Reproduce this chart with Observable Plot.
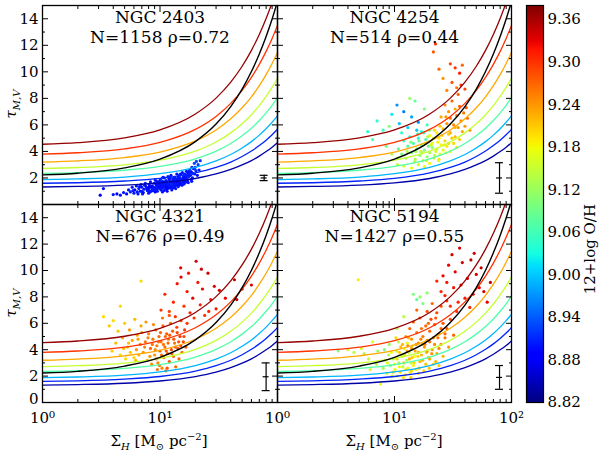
<!DOCTYPE html>
<html><head><meta charset="utf-8">
<script src="https://cdn.jsdelivr.net/npm/d3@7"></script>
<script src="https://cdn.jsdelivr.net/npm/@observablehq/plot@0.6"></script>
<style>
body{margin:0;background:#fff;}
#fig{position:relative;width:600px;height:451px;overflow:hidden;background:#fff;font-family:"DejaVu Serif",serif;color:#000;}
#fig svg text{font-family:"DejaVu Serif",serif;}
.lab{position:absolute;white-space:nowrap;font-size:15px;line-height:1;}
.lab sub,.lab sup{font-size:10px;}
</style></head><body><div id="fig"></div>
<script>
// ---------- data ----------
const galaxies = ["NGC 2403", "NGC 4254", "NGC 4321", "NGC 5194"];
const counts = [1158, 514, 676, 1427];
const rhos = [0.72, 0.44, 0.49, 0.55];
// typical error bar per galaxy: [x, y, half-length]
const errBars = [[77, 2.0, 0.2], [79, 2.0, 1.15], [80, 1.95, 1.05], [79, 1.9, 0.9]];

// model curves
const modelX = [1, 2, 5, 10, 20, 30, 40, 50, 60, 70, 80, 90, 100];
const modelOH = [9.37, 9.30, 9.23, 9.15, 9.07, 8.99, 8.91, 8.84];
const modelY = [
  [4.54, 4.66, 5.02, 5.62, 6.82, 8.02, 9.22, 10.42, 11.62, 12.82, 14.02, 15.22, 16.42],
  [3.80, 3.90, 4.19, 4.68, 5.66, 6.64, 7.62, 8.60, 9.58, 10.56, 11.54, 12.52, 13.50],
  [3.20, 3.29, 3.54, 3.95, 4.79, 5.62, 6.46, 7.29, 8.12, 8.96, 9.79, 10.63, 11.46],
  [2.72, 2.79, 2.99, 3.34, 4.02, 4.71, 5.40, 6.09, 6.77, 7.46, 8.15, 8.83, 9.52],
  [2.35, 2.41, 2.58, 2.87, 3.44, 4.02, 4.60, 5.18, 5.75, 6.33, 6.91, 7.48, 8.06],
  [1.88, 1.93, 2.07, 2.32, 2.80, 3.29, 3.77, 4.26, 4.74, 5.23, 5.71, 6.20, 6.68],
  [1.60, 1.64, 1.77, 1.97, 2.38, 2.79, 3.20, 3.62, 4.03, 4.44, 4.85, 5.26, 5.67],
  [1.32, 1.36, 1.46, 1.63, 1.96, 2.30, 2.64, 2.98, 3.31, 3.65, 3.99, 4.32, 4.66]
];
const blackY = [2.23, 2.36, 2.76, 3.42, 4.74, 6.06, 7.38, 8.70, 10.02, 11.34, 12.66, 13.98, 15.30];

// scatter points [Sigma_H, tau, 12+log O/H]
const ngc2403 = [
[3.1,0.7,8.89],[3.3,1.2,8.9],[4.0,0.75,8.9],[4.3,0.8,8.88],[4.6,0.7,8.9],[4.9,0.9,8.9],[5.2,0.8,8.89],[5.4,1.1,8.9],[5.6,0.95,8.91],[5.8,1.3,8.9],
[6.0,0.85,8.9],[6.1,1.1,8.88],[6.3,1.4,8.9],[6.4,0.95,8.9],[6.6,1.2,8.91],[6.8,1.0,8.89],[6.9,1.5,8.9],[7.0,1.3,8.9],[7.2,0.9,8.88],[7.3,1.15,8.9],
[7.5,1.6,8.91],[7.6,1.35,8.9],[7.8,1.05,8.9],[7.9,1.25,8.89],[8.1,1.5,8.9],[8.2,0.95,8.9],[8.3,1.7,8.9],[8.5,1.2,8.91],[8.6,1.4,8.88],[8.7,1.05,8.9],
[8.9,1.6,8.9],[9.0,1.3,8.9],[9.1,1.85,8.91],[9.2,1.15,8.9],[9.3,1.5,8.89],[9.5,1.0,8.9],[9.6,1.7,8.9],[9.7,1.35,8.9],[9.8,1.25,8.88],[10.0,1.55,8.9],
[10.1,1.9,8.91],[10.2,1.1,8.9],[10.3,1.45,8.9],[10.5,1.75,8.9],[10.6,1.3,8.89],[10.7,1.6,8.9],[10.9,2.0,8.9],[11.0,1.2,8.91],[11.1,1.5,8.9],[11.3,1.8,8.9],
[11.4,1.4,8.88],[11.5,1.65,8.9],[11.7,2.1,8.9],[11.8,1.3,8.9],[11.9,1.55,8.91],[12.0,1.85,8.9],[12.2,1.45,8.9],[12.3,1.7,8.89],[12.4,2.2,8.9],[12.6,1.35,8.9],
[12.7,1.6,8.9],[12.9,1.95,8.91],[13.0,1.5,8.9],[13.1,1.75,8.88],[13.3,2.05,8.9],[13.4,1.4,8.9],[13.6,1.65,8.9],[13.7,1.9,8.91],[13.9,2.3,8.9],[14.0,1.55,8.9],
[14.2,1.8,8.89],[14.3,2.1,8.9],[14.5,1.45,8.9],[14.6,1.7,8.9],[14.8,2.0,8.91],[15.0,1.6,8.9],[15.1,2.25,8.9],[15.3,1.85,8.88],[15.5,2.4,8.9],[15.6,1.7,8.9],
[15.8,2.05,8.9],[16.0,1.9,8.91],[16.2,2.3,8.9],[16.4,1.75,8.9],[16.6,2.15,8.89],[16.8,2.5,8.9],[17.0,1.95,8.9],[17.3,2.35,8.9],[17.6,2.1,8.91],[17.9,2.6,8.9],
[18.2,2.2,8.9],[18.5,2.45,8.88],[18.9,2.0,8.9],[19.3,2.7,8.9],[19.7,2.3,8.9],[20.2,2.55,8.91],[20.8,2.2,8.9],[21.5,2.6,8.9],[19.6,3.1,8.93],[20.4,3.25,8.93],
[21.1,3.0,8.92],[22.0,3.3,8.92],[8.0,1.1,8.9],[8.4,1.35,8.89],[8.8,1.25,8.9],[9.4,1.4,8.9],[9.9,1.2,8.91],[10.4,1.6,8.9],[10.8,1.45,8.9],[11.2,1.35,8.89],
[11.6,1.5,8.9],[12.1,1.25,8.9],[12.5,1.55,8.91],[12.8,1.8,8.9],[13.2,1.3,8.9],[13.5,1.55,8.9],[13.8,1.7,8.89],[14.1,1.95,8.9],[14.4,1.6,8.9],[14.7,1.85,8.9],
[15.2,1.5,8.91],[15.7,1.95,8.9],[16.1,1.6,8.9],[16.5,2.0,8.9],[17.1,1.8,8.88],[17.7,2.25,8.9],[18.4,1.9,8.9],[19.0,2.35,8.91],[7.4,1.45,8.9],[6.7,1.35,8.9],
[9.3,1.75,8.9],[10.6,2.05,8.9],[12.2,2.0,8.89],[14.9,2.3,8.9],[16.9,2.2,8.9],[18.0,2.55,8.91],[5.9,1.05,8.9],[7.1,0.8,8.9],[8.0,0.85,8.9],[9.1,0.95,8.89],
[7.7,1.2,8.9],[8.1,1.3,8.89],[8.4,1.0,8.9],[8.9,1.1,8.9],[9.4,1.2,8.9],[9.7,1.55,8.9],[10.0,1.35,8.89],[10.3,1.2,8.9],[10.8,1.05,8.9],[11.2,1.15,8.9],
[11.6,1.2,8.89],[12.0,1.4,8.9],[12.4,1.3,8.9],[12.9,1.25,8.9],[13.3,1.6,8.9],[13.8,1.45,8.9],[14.3,1.35,8.9],[14.8,1.55,8.89],[15.4,1.45,8.9],[16.0,1.55,8.9],
[16.7,1.7,8.9],[17.4,1.65,8.9],[18.6,1.75,8.9],[10.5,0.95,8.9],[11.5,1.0,8.89],[12.6,1.1,8.9],[13.6,1.2,8.9],[6.5,0.8,8.9],[7.0,1.0,8.9],[9.9,1.75,8.9],
[11.0,1.7,8.9],[11.9,2.0,8.9],[13.2,1.85,8.9],[14.6,2.2,8.9],[15.9,2.15,8.9],[17.5,2.45,8.9],[19.9,2.8,8.91],[18.7,2.8,8.91]
];
const ngc4254 = [
[21.5,11.5,9.28],[22.4,12.1,9.3],[24,10.2,9.27],[30,10.6,9.29],[33,10.3,9.3],[36,9.9,9.31],[38,10.5,9.27],[31,9.2,9.28],[34,8.8,9.26],[37,9.0,9.3],
[28,8.6,9.25],[35,8.3,9.27],[40,8.7,9.29],[26,9.5,9.24],
[27,7.5,9.25],[29,7.0,9.24],[30,6.5,9.26],[31,7.8,9.27],[32,6.0,9.25],[33,7.2,9.23],[34,6.7,9.26],[35,5.8,9.24],[36,7.4,9.27],[37,6.3,9.25],
[38,5.5,9.23],[39,6.9,9.26],[40,5.9,9.24],[42,6.5,9.27],[44,5.6,9.25],[30,5.4,9.23],[33,5.1,9.22],[28,6.1,9.24],[26,5.7,9.22],[36,4.9,9.21],
[41,7.3,9.28],[25,6.6,9.23],
[20,5.2,9.18],[21,4.6,9.17],[22,5.6,9.2],[23,4.2,9.16],[24,5.0,9.19],[25,4.5,9.18],[26,4.1,9.17],[27,4.8,9.2],[28,4.4,9.19],[29,5.3,9.21],
[30,4.0,9.18],[32,4.6,9.2],[34,4.3,9.19],[23,5.4,9.19],
[10.8,4.2,9.08],[11.5,3.8,9.1],[12,4.8,9.05],[12.5,3.5,9.12],[13,4.4,9.07],[13.5,5.1,9.03],[14,3.9,9.1],[14.5,4.6,9.06],[15,3.4,9.13],[15.5,4.2,9.09],
[16,5.0,9.04],[16.5,3.7,9.11],[17,4.5,9.08],[17.5,3.3,9.14],[18,4.1,9.1],[18.5,4.9,9.06],[19,3.6,9.12],[19.5,4.4,9.09],[20,3.9,9.13],[21,4.3,9.11],
[22,3.7,9.14],[12.8,4.0,9.13],[14.8,3.2,9.15],[16.8,4.0,9.15],[18.8,3.3,9.16],
[7.1,6.3,9.04],[8,5.6,9.06],[9.5,6.8,9.02],[10.5,7.5,8.97],[11,6.1,9.0],[12,7.0,8.96],[13,5.8,9.01],[14,6.6,8.98],[15,7.8,9.08],[16,6.2,8.97],
[17,5.5,9.03],[18,7.2,9.1],[13.5,8.0,9.12],[11.5,5.4,9.05],[15.5,5.6,9.0],[9,5.9,9.1],[19,6.0,9.06],
[5.9,5.5,9.04],[6.5,4.9,9.06],[8.5,4.4,9.1],[10.6,3.5,9.12],[10.6,3.0,9.15],[9.5,3.8,9.13],
[12,2.9,9.16],[14,2.75,9.17],[16,3.0,9.16],[18,2.85,9.18],[20,3.1,9.18],[24,3.4,9.2],
[13.8,4.7,9.1],[15.2,4.0,9.12],[16.2,4.8,9.09],[17.2,3.9,9.13],[18.2,4.6,9.12],[19.2,5.1,9.14],[20.5,4.5,9.16],[21.5,5.0,9.17],[22.5,4.0,9.16],[23.5,4.7,9.18],
[24.5,3.8,9.17],[25.5,5.2,9.2],[26.5,4.5,9.19],[27.5,3.9,9.18],[17.8,5.4,9.06],[19.8,5.6,9.1],[15.8,5.3,9.05],[21.8,3.5,9.15],[23.8,3.3,9.17],[31,5.0,9.21],
[29,4.6,9.2],[33,5.8,9.22],[27.5,6.6,9.24],[24.5,5.9,9.21]
];
const ngc4321 = [
[3.3,6.5,9.2],[3.7,5.8,9.21],[4.0,6.2,9.2],[4.2,4.5,9.22],[4.4,5.4,9.21],[4.6,3.6,9.2],[4.8,4.9,9.23],[5.0,6.0,9.21],[5.1,3.3,9.2],[5.3,4.2,9.22],
[5.5,5.5,9.24],[5.6,3.8,9.21],[5.8,4.7,9.23],[6.0,3.4,9.2],[6.1,6.3,9.22],[6.3,4.0,9.24],[6.4,5.1,9.23],[6.6,3.6,9.22],[6.8,4.4,9.25],[6.9,5.8,9.23],
[4.6,7.3,9.2],[6.9,9.2,9.2],[3.9,3.9,9.21],[4.9,4.1,9.22],
[7.2,3.8,9.24],[7.5,4.6,9.26],[7.8,3.2,9.24],[8.0,5.2,9.25],[8.3,4.1,9.27],[8.5,2.9,9.25],[8.7,4.8,9.26],[9.0,3.6,9.24],[9.2,5.5,9.27],[9.4,4.3,9.26],
[9.6,3.0,9.25],[9.8,5.0,9.27],[10.0,3.9,9.28],[10.2,4.6,9.26],[10.4,2.6,9.25],[10.6,5.8,9.27],[10.8,3.4,9.26],[11.0,4.2,9.27],[11.2,2.4,9.26],[11.4,5.2,9.28],
[11.6,3.7,9.27],[11.8,4.8,9.26],[12.0,3.1,9.28],[12.3,6.0,9.27],[12.5,4.0,9.29],[12.8,5.4,9.27],[13.0,3.5,9.28],[13.3,4.5,9.26],[13.6,2.7,9.27],[13.9,5.7,9.29],
[14.2,4.1,9.28],[14.5,3.3,9.27],[14.8,5.0,9.3],[15.1,6.2,9.28],[15.4,3.8,9.27],[15.8,4.6,9.29],[16.2,5.5,9.3],[16.6,4.2,9.28],[17.0,6.0,9.3],[8.8,5.9,9.25],
[10.5,6.4,9.26],[12.0,6.6,9.28],[9.5,2.5,9.26],[11.5,2.6,9.28],[7.6,6.1,9.24],[13.5,6.5,9.3],
[10.2,7.0,9.3],[11,8.2,9.31],[12,6.9,9.29],[13,7.6,9.31],[14,9.0,9.32],[15.1,9.5,9.33],[16,7.3,9.3],[17,8.4,9.32],[18,6.8,9.31],[19,7.9,9.33],
[20.3,10.7,9.34],[21,9.1,9.32],[22,7.4,9.31],[23,8.6,9.33],[24,6.6,9.3],[25.6,9.8,9.34],[27,7.8,9.32],[29,8.8,9.33],[32,8.5,9.34],[36,7.9,9.33],
[43,9.3,9.35],[45,7.8,9.34],[50,8.6,9.35],[60,8.9,9.34],[19.5,6.4,9.3],[26,6.9,9.31],[15,10.2,9.33],[17.5,9.8,9.32],[22.5,10.1,9.34],[30,7.1,9.32],
[7.4,4.2,9.25],[7.9,4.9,9.25],[8.2,3.5,9.24],[8.6,4.4,9.26],[9.1,4.0,9.25],[9.3,3.3,9.26],[9.7,4.6,9.26],[10.1,5.3,9.27],[10.3,3.6,9.27],[10.7,4.4,9.26],
[11.1,5.0,9.27],[11.3,3.9,9.28],[11.7,4.5,9.27],[12.1,5.1,9.28],[12.6,3.7,9.27],[13.1,4.8,9.28],[13.5,4.2,9.28],[14.0,5.3,9.29],[14.4,4.6,9.28],[15.0,4.3,9.29],
[16.0,5.0,9.29],[6.5,4.8,9.23],[6.2,3.2,9.22],[5.4,4.5,9.22],[7.0,5.3,9.24],[9.9,2.8,9.26]
];
const ngc5194 = [
[7.6,1.4,9.18],[8.0,2.6,9.12],[8.3,3.2,9.15],[8.6,2.2,9.17],[8.9,3.6,9.14],[9.2,2.8,9.1],[9.5,2.0,9.16],[9.8,3.3,9.13],[10.1,2.5,9.18],[10.4,3.9,9.15],
[10.6,2.0,9.17],[10.9,3.0,9.12],[11.2,2.3,9.19],[11.5,3.5,9.16],[11.8,2.7,9.14],[12.1,4.1,9.18],[12.4,2.1,9.2],[12.7,3.2,9.13],[13.0,2.6,9.18],[13.3,3.8,9.16],
[13.6,2.3,9.19],[13.9,3.0,9.15],[14.2,4.3,9.2],[14.5,2.8,9.18],[14.8,3.5,9.17],[8.2,4.0,9.1],[9.0,4.4,9.12],[9.7,2.3,9.2],[10.8,4.6,9.14],[11.9,1.9,9.19],
[12.9,4.5,9.17],[13.8,1.9,9.2],
[12.5,5.0,9.24],[13,4.3,9.25],[13.5,5.6,9.27],[14,4.8,9.24],[14.5,6.1,9.28],[15,3.9,9.23],[15.5,5.3,9.26],[16,4.5,9.25],[16.5,6.4,9.28],[17,3.6,9.22],
[17.5,5.0,9.26],[18,4.2,9.24],[18.5,5.8,9.27],[19,4.7,9.25],[19.5,3.4,9.22],[20,5.4,9.27],[20.5,6.3,9.29],[21,4.0,9.24],[21.5,4.9,9.26],[22,5.9,9.28],
[23,3.7,9.23],[24,5.2,9.27],[25,4.4,9.25],[26,6.0,9.28],[27,4.9,9.26],[28,5.6,9.28],[29,4.2,9.24],[30,6.3,9.29],[32,5.1,9.27],[16.5,3.1,9.22],
[18.5,2.9,9.21],[20,3.3,9.23],[22.5,3.1,9.22],[24,2.8,9.21],[26,3.5,9.22],[15.5,7.0,9.27],[19,6.9,9.28],[23,6.8,9.29],[25,7.3,9.28],[28,7.7,9.3],[21,7.5,9.27],
[10.3,4.9,9.2],[11,3.8,9.21],[11.7,4.4,9.22],[12.2,3.6,9.2],[13.2,4.9,9.22],[14.1,3.4,9.21],[15.2,2.5,9.19],[15.8,3.5,9.2],[16.2,2.6,9.21],[17.2,4.4,9.22],
[17.8,2.4,9.2],[18.8,3.8,9.22],[19.8,2.6,9.21],[21.5,2.9,9.2],
[23,9.2,9.31],[26,9.6,9.33],[27,8.1,9.31],[29,10.4,9.33],[31,11.2,9.34],[32,8.7,9.32],[33,9.9,9.33],[35,7.6,9.31],[37,8.9,9.33],[38,10.6,9.34],
[40,7.9,9.32],[42,9.4,9.33],[45,10.8,9.35],[47,8.2,9.33],[50,9.7,9.34],[53,8.7,9.33],[55,10.2,9.35],[58,8.4,9.34],[62,7.6,9.33],[66,9.1,9.35],
[34,6.9,9.3],[30,7.3,9.3],[44,7.2,9.31],[36,11.7,9.34],[25,8.4,9.31],[28,9.1,9.32],[48,11.3,9.34],
[4.9,9.3,9.19],[4.0,4.0,9.16],[4.5,3.8,9.14],[5.2,4.1,9.17],[5.5,3.7,9.13],[3.3,3.9,9.1],[6.0,3.3,9.15],[6.5,4.6,9.17],[7.0,2.9,9.13],[6.2,2.5,9.16],
[7.2,3.9,9.12],[14.5,8.2,9.1],[15.5,7.8,9.08],[16.5,8.0,9.12],[17.5,7.5,9.1],[19,8.3,9.11],[12,6.5,9.14],[10.5,5.6,9.13],
[10.5,3.3,9.2],[11.3,4.2,9.22],[12.0,3.0,9.21],[12.8,3.9,9.23],[13.4,3.3,9.22],[14.0,4.1,9.24],[14.7,3.0,9.2],[15.3,4.4,9.24],[16.0,3.8,9.23],[16.8,4.8,9.25],
[17.4,3.2,9.22],[18.2,4.4,9.25],[19.0,3.9,9.24],[20.0,4.6,9.26],[20.8,3.7,9.24],[22.0,4.4,9.25],[23.5,4.9,9.26],[25,5.6,9.27],[9.4,3.8,9.18],[8.7,3.0,9.16],
[10.0,2.9,9.17],[11.0,2.7,9.18],[12.5,2.5,9.19],[14.0,2.4,9.2],[16.0,2.2,9.2],[17.0,5.6,9.26],[19.5,6.0,9.27],[22.5,6.4,9.28],[27,5.2,9.27],[24,4.1,9.25]
];
const scatterSets = [ngc2403, ngc4254, ngc4321, ngc5194];

// axes
const majorX = [1, 10, 100];
const minorX = [2,3,4,5,6,7,8,9,20,30,40,50,60,70,80,90];
const majorY = [0,2,4,6,8,10,12,14];
const minorY = [1,3,5,7,9,11,13];
const cbTicks = [8.82, 8.88, 8.94, 9.00, 9.06, 9.12, 9.18, 9.24, 9.30, 9.36];
const ohRange = [8.82, 9.38];

// jet colormap stops
const jetT = [0,0.11,0.125,0.34,0.35,0.375,0.64,0.65,0.66,0.89,0.91,1];
const jetC = ["#000080","#0000ff","#0000ff","#00dbff","#00e6f7","#15ffe2","#efff08","#f7f500","#ffec00","#ff1300","#e80000","#800000"];
const colorOpts = {type: "linear", domain: jetT.map(t => ohRange[0] + t*(ohRange[1]-ohRange[0])), range: jetC, interpolate: "rgb"};

const modelRows = modelY.flatMap((ys, i) => modelX.map((x, j) => ({x, y: ys[j], oh: modelOH[i], id: i})));
const blackRows = modelX.map((x, j) => ({x, y: blackY[j]}));

const SUP = {"0": "⁰", "1": "¹", "2": "²"};
const FONT = "DejaVu Serif";
const fig = document.getElementById("fig");

function panel(k, left, top, w, h, yLab, xLab) {
  const mL = 45, mR = 10, mT = 6, mB = 30;
  const noText = () => "";
  const e = errBars[k];
  const errRow = {x: e[0], y: e[1], lo: e[1]-e[2], hi: e[1]+e[2]};
  const marks = [
    Plot.dot(scatterSets[k], {x: d => d[0], y: d => d[1], fill: d => d[2], r: 1.6, clip: true}),
    Plot.line(modelRows, {x: "x", y: "y", z: "id", stroke: "oh", strokeWidth: 1.3, curve: "monotone-x", clip: true}),
    Plot.line(blackRows, {x: "x", y: "y", stroke: "black", strokeWidth: 1.4, curve: "monotone-x", clip: true}),
    Plot.ruleX([errRow], {x: "x", y1: "lo", y2: "hi", stroke: "black", strokeWidth: 1.2}),
    Plot.ruleY([errRow], {y: "lo", x1: "x", x2: "x", insetLeft: -4, insetRight: -4, stroke: "black", strokeWidth: 1.2}),
    Plot.ruleY([errRow], {y: "hi", x1: "x", x2: "x", insetLeft: -4, insetRight: -4, stroke: "black", strokeWidth: 1.2}),
    Plot.ruleY([errRow], {y: "y", x1: "x", x2: "x", insetLeft: -3, insetRight: -3, stroke: "black", strokeWidth: 1.2}),
    Plot.frame({stroke: "black", strokeWidth: 1.3}),
    Plot.axisX({anchor: "bottom", ticks: majorX, tickSize: -6, tickFormat: noText, label: null}),
    Plot.axisX({anchor: "bottom", ticks: minorX, tickSize: -3, tickFormat: noText, label: null}),
    Plot.axisX({anchor: "top", ticks: majorX, tickSize: -6, tickFormat: noText, label: null}),
    Plot.axisX({anchor: "top", ticks: minorX, tickSize: -3, tickFormat: noText, label: null}),
    Plot.axisY({anchor: "left", ticks: majorY, tickSize: -6, tickFormat: noText, label: null}),
    Plot.axisY({anchor: "left", ticks: minorY, tickSize: -3, tickFormat: noText, label: null}),
    Plot.axisY({anchor: "right", ticks: majorY, tickSize: -6, tickFormat: noText, label: null}),
    Plot.axisY({anchor: "right", ticks: minorY, tickSize: -3, tickFormat: noText, label: null}),
    Plot.text([galaxies[k]], {frameAnchor: "top", lineAnchor: "top", dy: 5, fontSize: 17, fontFamily: FONT, fill: "black"}),
    Plot.text([`N=${counts[k]} ρ=${rhos[k].toFixed(2)}`], {frameAnchor: "top", lineAnchor: "top", dy: 25, fontSize: 17, fontFamily: FONT, fill: "black"})
  ];
  if (yLab) {
    marks.push(Plot.axisY({anchor: "left", ticks: yLab.filter(v => v !== 0), tickSize: 0, tickPadding: 4, tickFormat: d => String(d), label: null, fontSize: 15, fontFamily: FONT}));
    if (yLab.includes(0)) marks.push(Plot.axisY({anchor: "left", ticks: [0], tickSize: 0, tickPadding: 4, dy: -3, tickFormat: d => String(d), label: null, fontSize: 15, fontFamily: FONT}));
  }
  if (xLab) marks.push(Plot.axisX({anchor: "bottom", ticks: xLab, tickSize: 0, tickPadding: 10, tickFormat: d => "10" + SUP[String(Math.round(Math.log10(d)))], label: null, fontSize: 15, fontFamily: FONT}));
  const svg = Plot.plot({
    width: w + mL + mR, height: h + mT + mB,
    marginLeft: mL, marginRight: mR, marginTop: mT, marginBottom: mB,
    style: {background: "transparent", overflow: "visible", fontFamily: FONT, fontSize: "15px", color: "black"},
    x: {type: "log", domain: [1, 100]},
    y: {type: "linear", domain: [0, 15]},
    color: colorOpts,
    marks
  });
  svg.style.position = "absolute";
  svg.style.left = (left - mL) + "px";
  svg.style.top = (top - mT) + "px";
  fig.appendChild(svg);
}

panel(0, 42, 5, 235, 199, [2,4,6,8,10,12,14], null);
panel(1, 277, 5, 234, 199, null, null);
panel(2, 42, 204, 235, 198, [0,2,4,6,8,10,12,14], [1, 10]);
panel(3, 277, 204, 234, 198, null, [1, 10, 100]);

// colorbar
(function () {
  const mL = 2, mR = 70, mT = 2, mB = 2, w = 17, h = 397;
  const svg = Plot.plot({
    width: w + mL + mR, height: h + mT + mB,
    marginLeft: mL, marginRight: mR, marginTop: mT, marginBottom: mB,
    style: {background: "transparent", overflow: "visible", fontFamily: FONT, fontSize: "15px", color: "black"},
    x: {domain: [0, 1]},
    y: {domain: ohRange},
    color: colorOpts,
    marks: [
      Plot.raster({x1: 0, x2: 1, y1: ohRange[0], y2: ohRange[1], width: 1, height: 397, fill: (x, y) => y}),
      Plot.frame({stroke: "black", strokeWidth: 1.2}),
      Plot.axisY({anchor: "right", ticks: cbTicks, tickSize: 0, tickPadding: 4, tickFormat: d3.format(".2f"), label: null, fontSize: 15, fontFamily: FONT}),
      Plot.axisX({ticks: [], label: null}),
      Plot.text(["12+log O/H"], {frameAnchor: "right", rotate: -90, dx: 47, fontSize: 15, fontFamily: FONT, fill: "black"})
    ]
  });
  svg.style.position = "absolute";
  svg.style.left = (526 - mL) + "px";
  svg.style.top = (5 - mT) + "px";
  fig.appendChild(svg);
})();

// axis titles
function label(html, cx, cy, rot) {
  const d = document.createElement("div");
  d.className = "lab";
  d.innerHTML = html;
  d.style.left = cx + "px";
  d.style.top = cy + "px";
  d.style.transform = `translate(-50%,-50%)${rot ? " rotate(-90deg)" : ""}`;
  fig.appendChild(d);
}
const yTitle = "<i>τ</i><sub><i>M,V</i></sub>";
const xTitle = "Σ<sub><i>H</i></sub> [M<sub>⊙</sub> pc<sup>−2</sup>]";
label(yTitle, 13, 104, true);
label(yTitle, 13, 303, true);
label(xTitle, 159, 442, false);
label(xTitle, 394, 442, false);
</script></body></html>
